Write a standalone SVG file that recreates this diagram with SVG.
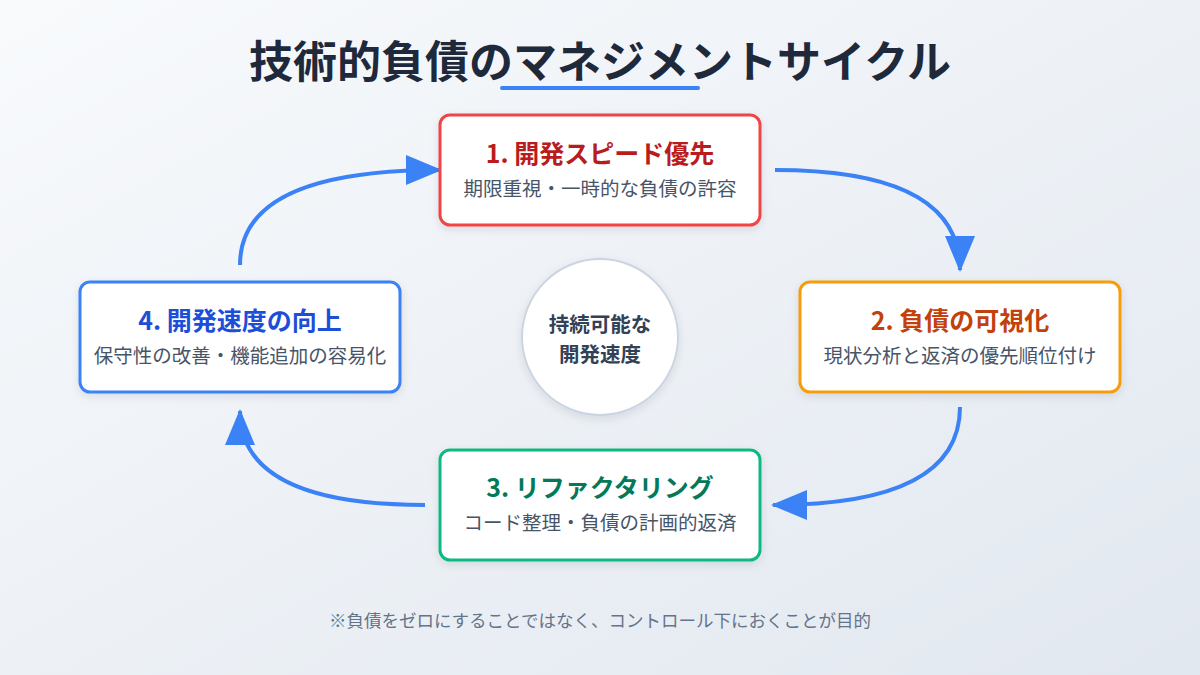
<svg xmlns="http://www.w3.org/2000/svg" width="1200" height="675" viewBox="0 0 1200 675">
<defs>
<linearGradient id="bg" x1="0" y1="0" x2="1" y2="1"><stop offset="0" stop-color="#f8fafc"/><stop offset="1" stop-color="#e2e8f0"/></linearGradient>
<filter id="sh" x="-10%" y="-10%" width="120%" height="130%"><feDropShadow dx="0" dy="3" stdDeviation="4" flood-color="#0f172a" flood-opacity="0.1"/></filter>
<marker id="ah" markerUnits="userSpaceOnUse" markerWidth="36" markerHeight="30" refX="34" refY="15" orient="auto"><path d="M0,0 L36,15 L0,30 Z" fill="#3b82f6"/></marker>
<style>
text{font-family:"Noto Sans CJK JP","Noto Sans",sans-serif;text-anchor:middle}
.box{fill:#fff;stroke-width:3;filter:url(#sh)}
.t{font-size:25px;font-weight:700}
.s{font-size:19.5px;fill:#475569}
.c{fill:none;stroke:#3b82f6;stroke-width:4;marker-end:url(#ah)}
</style>
</defs>
<rect width="1200" height="675" fill="url(#bg)"/>
<text x="600" y="78" font-size="44" font-weight="700" fill="#1e293b">技術的負債のマネジメントサイクル</text>
<rect x="500" y="86" width="200" height="4" rx="2" fill="#3b82f6"/>
<g id="connectors">
<path class="c" d="M775,170 Q960,170 960,270"/>
<path class="c" d="M960,407 Q960,505 773,505"/>
<path class="c" d="M425,505 Q240,505 240,411"/>
<path class="c" d="M240,265 Q240,170 440,170"/>
</g>
<g id="n1"><rect class="box" x="440" y="115" width="320" height="110" rx="10" stroke="#ef4444"/>
<text class="t" x="600" y="163" fill="#b91c1c">1. 開発スピード優先</text><text class="s" x="600" y="196">期限重視・一時的な負債の許容</text></g>
<g id="n2"><rect class="box" x="800" y="282" width="320" height="110" rx="10" stroke="#f59e0b"/>
<text class="t" x="960" y="330" fill="#c2410c">2. 負債の可視化</text><text class="s" x="960" y="363">現状分析と返済の優先順位付け</text></g>
<g id="n3"><rect class="box" x="440" y="450" width="320" height="110" rx="10" stroke="#10b981"/>
<text class="t" x="600" y="497" fill="#047857">3. リファクタリング</text><text class="s" x="600" y="530">コード整理・負債の計画的返済</text></g>
<g id="n4"><rect class="box" x="80" y="282" width="320" height="110" rx="10" stroke="#3b82f6"/>
<text class="t" x="240" y="330" fill="#1d4ed8">4. 開発速度の向上</text><text class="s" x="240" y="363">保守性の改善・機能追加の容易化</text></g>
<g id="center"><circle cx="600" cy="337" r="78" fill="#fff" stroke="#cbd5e1" stroke-width="2" filter="url(#sh)"/>
<text x="600" y="332" font-size="20.5" font-weight="700" fill="#334155">持続可能な</text>
<text x="600" y="362" font-size="20.5" font-weight="700" fill="#334155">開発速度</text></g>
<text x="600" y="627" font-size="17.5" fill="#64748b">※負債をゼロにすることではなく、コントロール下におくことが目的</text>
</svg>
